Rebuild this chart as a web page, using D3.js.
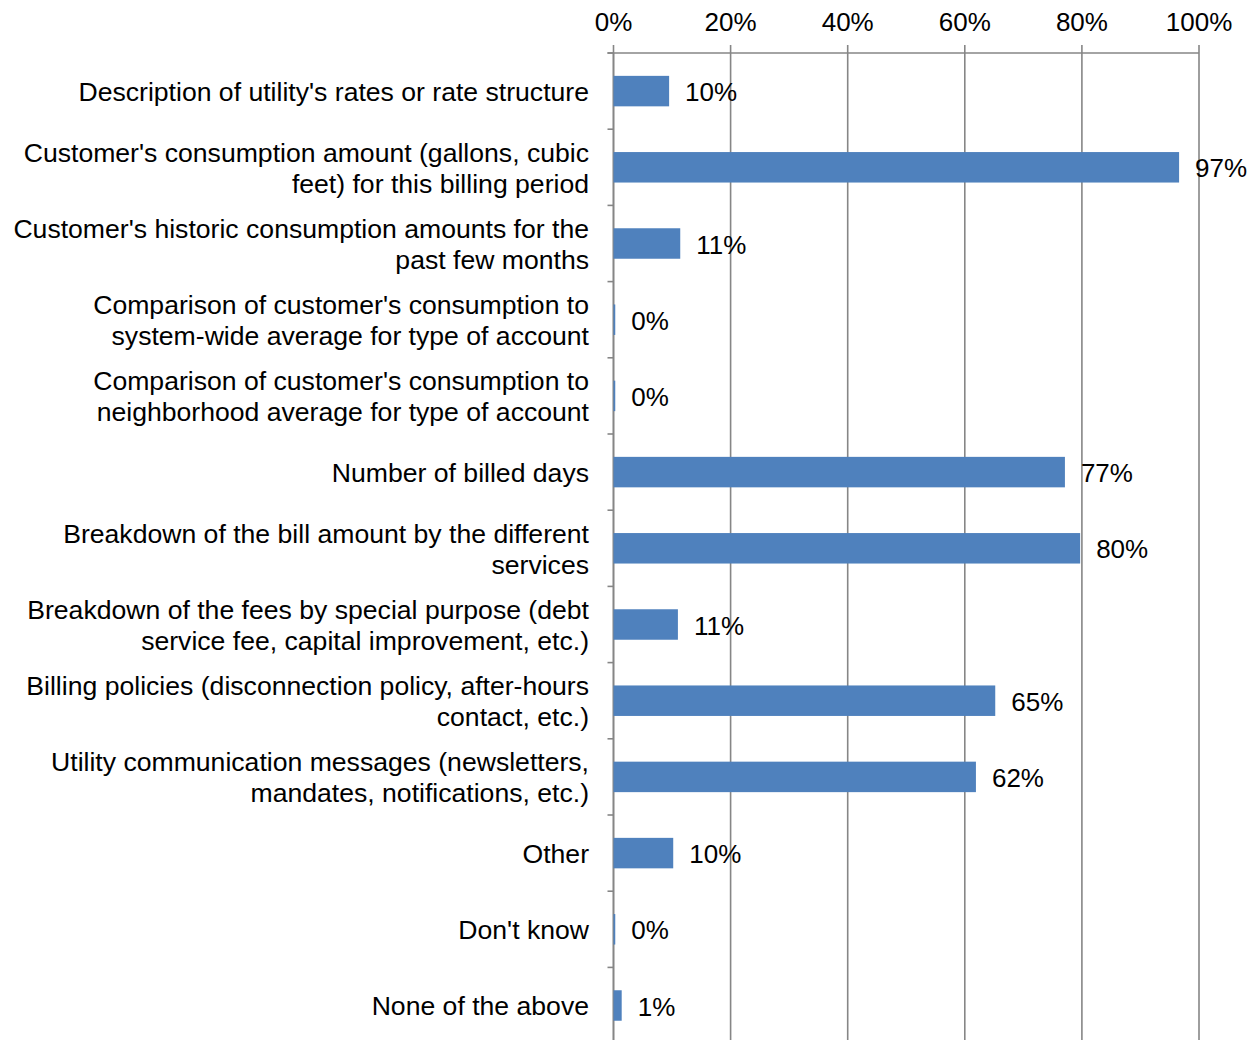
<!DOCTYPE html>
<html>
<head>
<meta charset="utf-8">
<script src="https://cdn.jsdelivr.net/npm/d3@7"></script>
<style>
  html, body { margin: 0; padding: 0; background: #fff; }
  svg { display: block; font-family: "Liberation Sans", Arial, sans-serif; }
</style>
</head>
<body>
<svg id="chart" width="1255" height="1040"></svg>
<script>
// Bill content items (line breaks mark how each label wraps)
const categories = [
  "Description of utility's rates or rate structure",
  "Customer's consumption amount (gallons, cubic\nfeet) for this billing period",
  "Customer's historic consumption amounts for the\npast few months",
  "Comparison of customer's consumption to\nsystem-wide average for type of account",
  "Comparison of customer's consumption to\nneighborhood average for type of account",
  "Number of billed days",
  "Breakdown of the bill amount by the different\nservices",
  "Breakdown of the fees by special purpose (debt\nservice fee, capital improvement, etc.)",
  "Billing policies (disconnection policy, after-hours\ncontact, etc.)",
  "Utility communication messages (newsletters,\nmandates, notifications, etc.)",
  "Other",
  "Don't know",
  "None of the above"
];

// Share of respondents (fraction)
const shares = [0.095, 0.966, 0.114, 0.003, 0.003, 0.771, 0.797, 0.110, 0.652, 0.619, 0.102, 0.003, 0.014];

// Axis ticks
const tickValues = [0, 0.2, 0.4, 0.6, 0.8, 1.0];

const svg = d3.select("#chart");
const plotLeft = 613.5, plotRight = 1199, plotTop = 53, step = 76.2;
const gridColor = "#868686";
const barColor = "#4F81BD";
const fontSize = 26;
const catFontSize = 26.6;

const x = d3.scaleLinear().domain([0, 1]).range([plotLeft, plotRight]);
const y = d3.scaleBand()
  .domain(d3.range(categories.length))
  .range([plotTop, plotTop + step * categories.length])
  .paddingInner(0.6)
  .paddingOuter(0.3);

const fmt = d3.format(".0%");

// Vertical gridlines
svg.append("g")
  .selectAll("line")
  .data(tickValues)
  .join("line")
  .attr("x1", d => x(d)).attr("x2", d => x(d))
  .attr("y1", plotTop).attr("y2", 1040)
  .attr("stroke", gridColor).attr("stroke-width", 1.6);

// Top axis: line, upward ticks, labels
const xAxis = svg.append("g");
xAxis.append("line")
  .attr("x1", plotLeft - 6).attr("x2", plotRight)
  .attr("y1", plotTop).attr("y2", plotTop)
  .attr("stroke", gridColor).attr("stroke-width", 1.6);
xAxis.selectAll("line.tick")
  .data(tickValues)
  .join("line")
  .attr("class", "tick")
  .attr("x1", d => x(d)).attr("x2", d => x(d))
  .attr("y1", plotTop - 8).attr("y2", plotTop)
  .attr("stroke", gridColor).attr("stroke-width", 1.6);
xAxis.selectAll("text")
  .data(tickValues)
  .join("text")
  .attr("x", d => x(d))
  .attr("y", 31)
  .attr("text-anchor", "middle")
  .attr("font-size", fontSize)
  .attr("fill", "#000")
  .text(d => fmt(d));

// Category axis: line and boundary ticks
const yAxis = svg.append("g");
yAxis.append("line")
  .attr("x1", plotLeft).attr("x2", plotLeft)
  .attr("y1", plotTop).attr("y2", 1040)
  .attr("stroke", gridColor).attr("stroke-width", 1.6);
yAxis.selectAll("line.tick")
  .data(d3.range(categories.length + 1))
  .join("line")
  .attr("class", "tick")
  .attr("x1", plotLeft - 6).attr("x2", plotLeft)
  .attr("y1", i => plotTop + i * y.step())
  .attr("y2", i => plotTop + i * y.step())
  .attr("stroke", gridColor).attr("stroke-width", 1.6);

// Category labels, right-aligned, multi-line
const lineH = 31;
yAxis.selectAll("text")
  .data(categories)
  .join("text")
  .attr("text-anchor", "end")
  .attr("font-size", catFontSize)
  .attr("fill", "#000")
  .each(function(d, i) {
    const lines = d.split("\n");
    const cy = y(i) + y.bandwidth() / 2 + 0.5;
    const t = d3.select(this);
    lines.forEach((ln, k) => {
      t.append("tspan")
        .attr("x", 589)
        .attr("y", cy + (k - (lines.length - 1) / 2) * lineH)
        .attr("dy", "0.35em")
        .text(ln);
    });
  });

// Bars
svg.append("g")
  .selectAll("rect")
  .data(shares)
  .join("rect")
  .attr("x", x(0))
  .attr("y", (d, i) => y(i))
  .attr("width", d => x(d) - x(0))
  .attr("height", y.bandwidth())
  .attr("fill", barColor);

// Value labels
svg.append("g")
  .selectAll("text")
  .data(shares)
  .join("text")
  .attr("x", d => x(d) + 16)
  .attr("y", (d, i) => y(i) + y.bandwidth() / 2 + 1)
  .attr("dy", "0.35em")
  .attr("font-size", fontSize)
  .attr("fill", "#000")
  .text(d => fmt(d));
</script>
</body>
</html>
